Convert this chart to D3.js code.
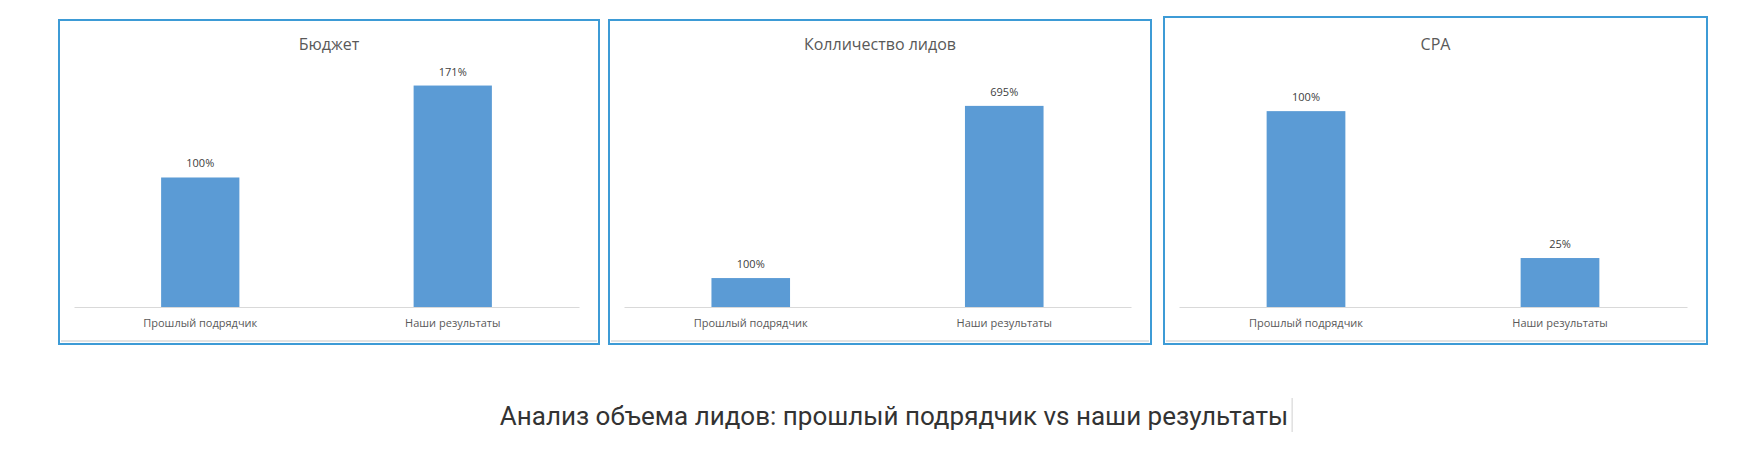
<!DOCTYPE html>
<html><head><meta charset="utf-8">
<script src="https://cdn.jsdelivr.net/npm/d3@7"></script>
<style>body{margin:0;background:#fff}</style></head>
<body><svg id="c" width="1744" height="449"></svg>
<script>
const categories = ["Прошлый подрядчик", "Наши результаты"];
const chartTitles = ["Бюджет", "Колличество лидов", "CPA"];
const budgetValues = [100, 171];
const leadsValues = [100, 695];
const cpaValues = [100, 25];
const axisMax = [183, 819, 121];
const caption = "Анализ объема лидов: прошлый подрядчик vs наши результаты";

const series = [budgetValues, leadsValues, cpaValues];
const boxes = [{x:58,y:19,w:542,h:326},{x:608,y:19,w:544,h:326},{x:1163,y:16,w:545,h:329}];
const svg = d3.select("#c");
const font = "'Open Sans', 'Liberation Sans', sans-serif";

boxes.forEach((b, i) => {
  const g = svg.append("g").attr("transform", `translate(${b.x},${b.y})`);
  g.append("rect").attr("x",1).attr("y",1).attr("width",b.w-2).attr("height",b.h-2)
    .attr("fill","#fff").attr("stroke","#3d9bd6").attr("stroke-width",2);
  g.append("line").attr("x1",3).attr("x2",b.w-3).attr("y1",b.h-4).attr("y2",b.h-4)
    .attr("stroke","#e3e3e3").attr("stroke-width",2);
  g.append("text").attr("x",b.w/2).attr("y",b.y===16?34:31).attr("text-anchor","middle")
    .attr("font-family",font).attr("font-size",16).attr("fill","#595959").text(chartTitles[i]);
  const left = 16, right = b.w - 21, base = 307 - b.y, top = 70 - b.y;
  const x = d3.scaleBand().domain(categories).range([left,right]).paddingInner(0.69).paddingOuter(0.345);
  const y = d3.scaleLinear().domain([0, axisMax[i]]).range([base, top]);
  g.selectAll("rect.bar").data(series[i]).join("rect").attr("class","bar")
    .attr("x",(d,k)=>x(categories[k])).attr("width",x.bandwidth())
    .attr("y",d=>y(d)).attr("height",d=>base-y(d)).attr("fill","#5b9bd5");
  g.selectAll("text.val").data(series[i]).join("text").attr("class","val")
    .attr("x",(d,k)=>x(categories[k])+x.bandwidth()/2).attr("y",d=>y(d)-10)
    .attr("text-anchor","middle").attr("font-family",font).attr("font-size",11).attr("fill","#404040")
    .text(d=>d+"%");
  const ax = g.append("g").attr("transform",`translate(0,${base})`)
    .call(d3.axisBottom(x).tickSize(0).tickPadding(12));
  ax.select(".domain").attr("stroke","#d9d9d9");
  ax.selectAll("text").attr("font-family",font).attr("font-size",11).attr("fill","#595959");
});

const t = svg.append("text").attr("x",894).attr("y",425).attr("text-anchor","middle")
  .attr("font-family","Roboto, sans-serif").attr("font-size",26).attr("fill","#333").text(caption);
const bb = t.node().getBBox();
svg.append("line").attr("x1",bb.x+bb.width+4).attr("x2",bb.x+bb.width+4).attr("y1",398).attr("y2",432)
  .attr("stroke","#e0e0e0").attr("stroke-width",1.5);
</script></body></html>
